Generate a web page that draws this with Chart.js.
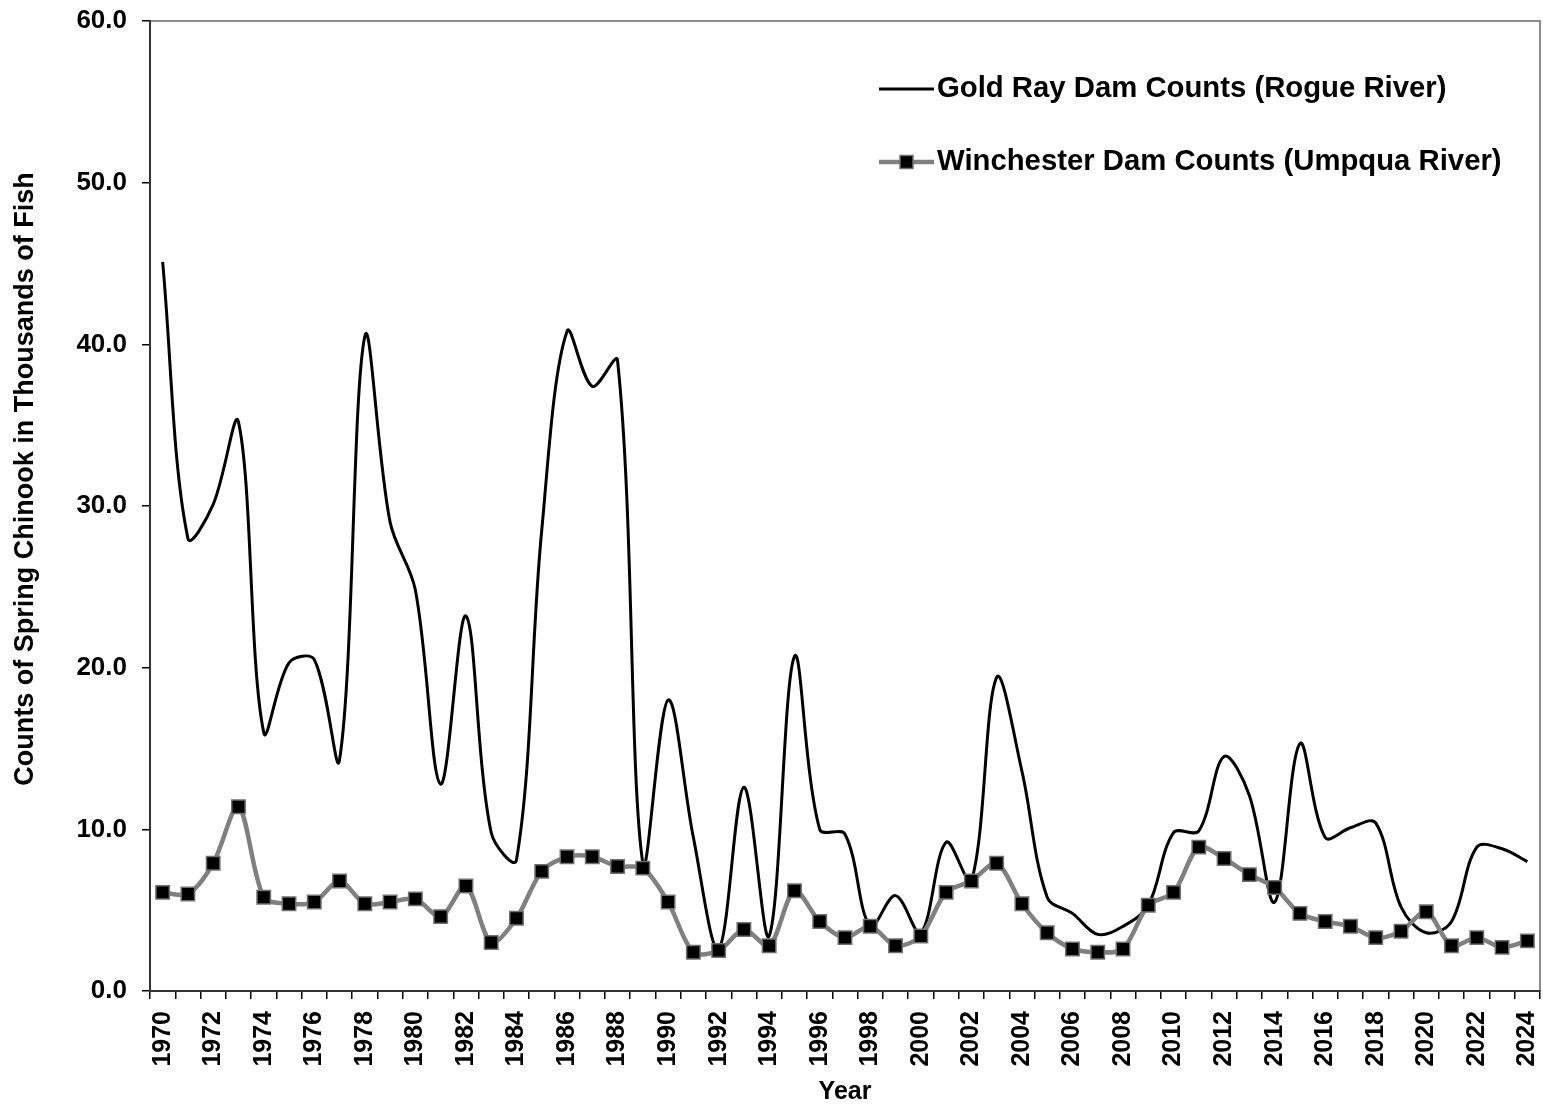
<!DOCTYPE html>
<html>
<head>
<meta charset="utf-8">
<script src="https://cdn.jsdelivr.net/npm/chart.js@4/dist/chart.umd.min.js"></script>
<style>
html,body{margin:0;padding:0;background:#fff;}
canvas{display:block;}
</style>
</head>
<body>
<canvas id="c" width="1543" height="1107"></canvas>
<script>
// ---- data ----
const years = ['1970','1971','1972','1973','1974','1975','1976','1977','1978','1979',
  '1980','1981','1982','1983','1984','1985','1986','1987','1988','1989',
  '1990','1991','1992','1993','1994','1995','1996','1997','1998','1999',
  '2000','2001','2002','2003','2004','2005','2006','2007','2008','2009',
  '2010','2011','2012','2013','2014','2015','2016','2017','2018','2019',
  '2020','2021','2022','2023','2024'];

const goldRayCounts = [45.1, 28.0, 30.1, 35.2, 16.0, 20.3, 20.5, 14.3, 40.5, 29.0,
  24.8, 12.8, 23.2, 9.8, 8.1, 28.5, 40.8, 37.4, 39.0, 7.9,
  18.0, 9.5, 2.6, 12.6, 3.4, 20.7, 10.0, 9.7, 4.0, 5.9,
  3.6, 9.2, 6.8, 19.4, 13.6, 5.8, 4.8, 3.5, 4.0, 5.3,
  9.8, 9.9, 14.5, 12.1, 5.5, 15.3, 9.5, 10.1, 10.4, 5.2,
  3.6, 4.3, 8.9, 8.8, 8.0];

const winchesterCounts = [6.1, 6.0, 7.9, 11.4, 5.8, 5.4, 5.5, 6.8, 5.4, 5.5,
  5.7, 4.6, 6.5, 3.0, 4.5, 7.4, 8.3, 8.3, 7.7, 7.6,
  5.5, 2.4, 2.5, 3.8, 2.8, 6.2, 4.3, 3.3, 4.0, 2.8,
  3.4, 6.1, 6.8, 7.9, 5.4, 3.6, 2.6, 2.4, 2.6, 5.3,
  6.1, 8.9, 8.2, 7.2, 6.4, 4.8, 4.3, 4.0, 3.3, 3.7,
  4.9, 2.8, 3.3, 2.7, 3.1];

const seriesLabels = ['Gold Ray Dam Counts (Rogue River)', 'Winchester Dam Counts (Umpqua River)'];
const xAxisTitle = 'Year';
const yAxisTitle = 'Counts of Spring Chinook in Thousands of Fish';
const yMin = 0, yMax = 60, yStep = 10;

// ---- styles ----
const FONT = '"Liberation Sans", Arial, Helvetica, sans-serif';

const framePlugin = {
  id: 'frame',
  beforeDraw(chart) {
    const { ctx, chartArea: a } = chart;
    ctx.save();
    ctx.strokeStyle = '#8c8c8c';
    ctx.lineWidth = 2;
    ctx.strokeRect(a.left, a.top, a.right - a.left, a.bottom - a.top);
    ctx.restore();
  }
};

const yTitlePlugin = {
  id: 'yTitle',
  afterDraw(chart) {
    const ctx = chart.ctx;
    ctx.save();
    ctx.translate(26, 479);
    ctx.rotate(-Math.PI / 2);
    ctx.font = 'bold 27px ' + FONT;
    ctx.fillStyle = '#000';
    ctx.textAlign = 'center';
    ctx.textBaseline = 'middle';
    ctx.fillText(yAxisTitle, 0, 0);
    ctx.restore();
  }
};

const legendPlugin = {
  id: 'customLegend',
  afterDraw(chart) {
    const ctx = chart.ctx;
    const ds = chart.data.datasets;
    ctx.save();
    ctx.strokeStyle = ds[0].borderColor;
    ctx.lineWidth = ds[0].borderWidth;
    ctx.beginPath(); ctx.moveTo(879, 89); ctx.lineTo(934, 89); ctx.stroke();
    ctx.strokeStyle = ds[1].borderColor;
    ctx.lineWidth = ds[1].borderWidth;
    ctx.beginPath(); ctx.moveTo(879, 162); ctx.lineTo(934, 162); ctx.stroke();
    ctx.fillStyle = ds[1].pointBackgroundColor;
    ctx.strokeStyle = ds[1].pointBorderColor;
    ctx.lineWidth = ds[1].pointBorderWidth;
    ctx.fillRect(900, 155.5, 13, 13);
    ctx.strokeRect(900, 155.5, 13, 13);
    ctx.font = 'bold 29.3px ' + FONT;
    ctx.fillStyle = '#000';
    ctx.textAlign = 'left';
    ctx.textBaseline = 'middle';
    ctx.fillText(ds[0].label, 937, 89);
    ctx.fillText(ds[1].label, 937, 162);
    ctx.restore();
  }
};

new Chart(document.getElementById('c'), {
  type: 'line',
  data: {
    labels: years,
    datasets: [
      {
        label: seriesLabels[0],
        data: goldRayCounts,
        borderColor: '#000000',
        borderWidth: 3,
        pointRadius: 0,
        tension: 0.35,
        fill: false,
        order: 2
      },
      {
        label: seriesLabels[1],
        data: winchesterCounts,
        borderColor: '#808080',
        borderWidth: 4.5,
        pointStyle: 'rect',
        pointRadius: 9.5,
        pointBackgroundColor: '#000000',
        pointBorderColor: '#707070',
        pointBorderWidth: 1.5,
        tension: 0.3,
        fill: false,
        clip: false,
        order: 1
      }
    ]
  },
  options: {
    responsive: false,
    animation: false,
    devicePixelRatio: 1,
    layout: { autoPadding: false, padding: { top: 21, right: 3, left: 0, bottom: 0 } },
    plugins: {
      legend: { display: false },
      tooltip: { enabled: false },
      title: { display: false }
    },
    scales: {
      x: {
        type: 'category',
        offset: true,
        grid: { offset: true, drawOnChartArea: false, drawTicks: true, tickLength: 8, color: '#000', lineWidth: 1.5 },
        border: { display: true, color: '#333', width: 2 },
        ticks: {
          autoSkip: false,
          maxRotation: 90,
          minRotation: 90,
          padding: 12,
          color: '#000',
          font: { family: FONT, size: 25, weight: 'bold' },
          callback: function (v, i) { return i % 2 === 0 ? this.getLabelForValue(v) : ''; }
        },
        title: {
          display: true,
          text: xAxisTitle,
          color: '#000',
          font: { family: FONT, size: 25, weight: 'bold' },
          padding: { top: 0, bottom: 0 }
        },
        afterFit(s) { s.height = 116; s.paddingLeft = 0; s.paddingRight = 0; s.paddingTop = 0; s.paddingBottom = 0; }
      },
      y: {
        min: yMin,
        max: yMax,
        grid: { drawOnChartArea: false, drawTicks: true, tickLength: 8, color: '#000', lineWidth: 1.5 },
        border: { display: true, color: '#333', width: 2 },
        ticks: {
          stepSize: yStep,
          padding: 15,
          color: '#000',
          font: { family: FONT, size: 26, weight: 'bold' },
          callback: (v) => Number(v).toFixed(1)
        },
        afterFit(s) { s.width = 150; s.paddingLeft = 0; s.paddingRight = 0; s.paddingTop = 0; s.paddingBottom = 0; }
      }
    }
  },
  plugins: [framePlugin, yTitlePlugin, legendPlugin]
});
</script>
</body>
</html>
